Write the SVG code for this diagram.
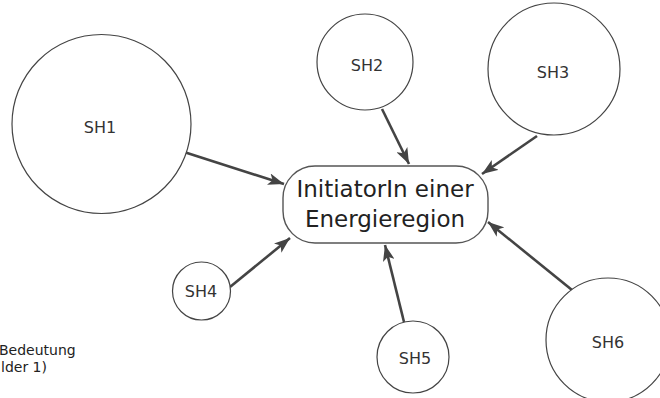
<svg xmlns="http://www.w3.org/2000/svg" width="660" height="398" viewBox="0 0 660 398">
<style>
  .node circle{fill:#fff;stroke:#444;stroke-width:1.2}
  .node rect{fill:#fff;stroke:#555;stroke-width:1.4}
  .lbl{font-family:"DejaVu Sans","Liberation Sans",sans-serif;font-size:16px;fill:#333;text-anchor:middle}
  .main{font-family:"DejaVu Sans","Liberation Sans",sans-serif;font-size:23px;fill:#222;text-anchor:middle}
  .note{font-family:"DejaVu Sans","Liberation Sans",sans-serif;font-size:14px;fill:#222}
  .conn line{stroke:#444;stroke-width:2.6;marker-end:url(#ah)}
</style>
<defs>
  <marker id="ah" viewBox="0 0 16 12" refX="16" refY="6" markerWidth="16" markerHeight="12" markerUnits="userSpaceOnUse" orient="auto">
    <path d="M0,0 L16,6 L0,12 L4,6 z" fill="#444"/>
  </marker>
</defs>
<rect width="660" height="398" fill="#fff"/>
<g id="connectors" class="conn">
  <line x1="184" y1="152" x2="284" y2="184"/>
  <line x1="382" y1="109" x2="409" y2="164"/>
  <line x1="537" y1="136" x2="482" y2="174"/>
  <line x1="230" y1="287" x2="290" y2="238"/>
  <line x1="404" y1="322" x2="385" y2="245"/>
  <line x1="572" y1="290" x2="488" y2="222"/>
</g>
<g id="center" class="node">
  <rect x="283" y="166" width="205" height="77" rx="32" ry="32"/>
  <text class="main" x="385" y="197">InitiatorIn einer</text>
  <text class="main" x="385" y="227">Energieregion</text>
</g>
<g id="sh1" class="node">
  <circle cx="101.5" cy="124" r="89.5"/>
  <text class="lbl" x="100" y="133">SH1</text>
</g>
<g id="sh2" class="node">
  <circle cx="365" cy="62" r="48"/>
  <text class="lbl" x="367" y="71">SH2</text>
</g>
<g id="sh3" class="node">
  <circle cx="554" cy="69" r="66"/>
  <text class="lbl" x="553" y="78">SH3</text>
</g>
<g id="sh4" class="node">
  <circle cx="201.5" cy="291" r="29"/>
  <text class="lbl" x="201" y="297">SH4</text>
</g>
<g id="sh5" class="node">
  <circle cx="413" cy="357" r="36"/>
  <text class="lbl" x="415" y="364">SH5</text>
</g>
<g id="sh6" class="node">
  <circle cx="608" cy="340" r="62"/>
  <text class="lbl" x="608" y="348">SH6</text>
</g>
<g id="note">
  <text class="note" x="-1" y="355">Bedeutung</text>
  <text class="note" x="1" y="372">lder 1)</text>
</g>
</svg>
